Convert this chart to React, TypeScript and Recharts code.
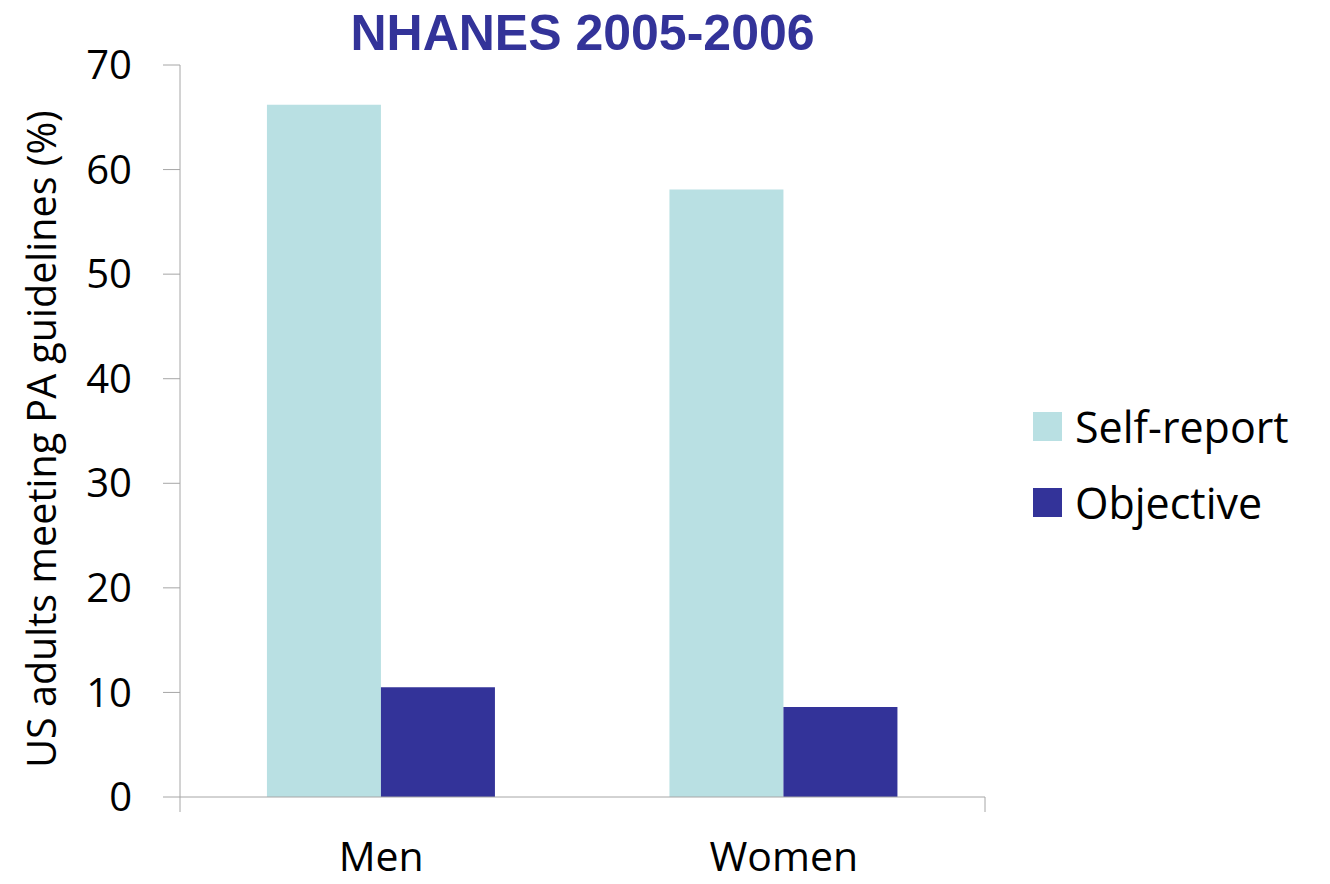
import { BarChart, Bar, XAxis, YAxis } from 'recharts';

const categories = ['Men', 'Women'];
const selfReport = [66.2, 58.1];
const objective = [10.5, 8.6];
const yTicks = [0, 10, 20, 30, 40, 50, 60, 70];
const edgeTicks = [0, 1, 2];

const SERIES = [
  { key: 'selfReport', name: 'Self-report', color: '#B9E0E3' },
  { key: 'objective', name: 'Objective', color: '#333399' },
];

const data = categories.map((c, i) => ({
  category: c,
  selfReport: selfReport[i],
  objective: objective[i],
}));

const FONT = '"Open Sans", "Noto Sans", sans-serif';
const AXIS = '#A6A6A6';

export default function App() {
  return (
    <div style={{ position: 'relative', width: 1330, height: 884, background: '#fff' }}>
      <style>{'body{margin:0}'}</style>
      <div
        style={{
          position: 'absolute',
          left: 180,
          width: 805,
          top: 7,
          textAlign: 'center',
          fontFamily: '"Liberation Sans", Arial, sans-serif',
          fontWeight: 'bold',
          fontSize: 50,
          color: '#333399',
          lineHeight: '52px',
        }}
      >
        NHANES 2005-2006
      </div>
      <BarChart
        width={1330}
        height={884}
        data={data}
        margin={{ top: 65, right: 345, bottom: 0, left: 0 }}
        barCategoryGap="21.6%"
        barGap={0}
      >
        <XAxis
          xAxisId="axis1"
          dataKey="category"
          axisLine={false}
          tickLine={false}
          tickSize={0}
          tickMargin={30}
          height={72}
          tick={{ fill: '#000', fontSize: 41, fontFamily: FONT }}
        />
        {/* category boundary ticks + baseline */}
        <XAxis
          xAxisId="axis0"
          type="number"
          domain={[0, categories.length]}
          ticks={edgeTicks}
          tickFormatter={() => ''}
          stroke={AXIS}
          tickSize={15}
          height={15}
          allowDataOverflow
        />
        <YAxis
          domain={[0, 70]}
          ticks={yTicks}
          width={180}
          stroke={AXIS}
          tickSize={17}
          tickMargin={31}
          tick={{ fill: '#000', fontSize: 40, fontFamily: FONT }}
          label={{
            value: 'US adults meeting PA guidelines (%)',
            angle: -90,
            position: 'insideLeft',
            offset: 42,
            dy: 8,
            style: { textAnchor: 'middle', fontSize: 39.5, fontFamily: FONT, fill: '#000' },
          }}
        />
        {SERIES.map((s) => (
          <Bar
            key={s.key}
            xAxisId="axis1"
            dataKey={s.key}
            name={s.name}
            fill={s.color}
            isAnimationActive={false}
          />
        ))}
      </BarChart>
      <div style={{ position: 'absolute', left: 1033, top: 388, fontFamily: FONT }}>
        {SERIES.map((s) => (
          <div key={s.key} style={{ display: 'flex', alignItems: 'center', height: 76 }}>
            <span style={{ width: 29, height: 29, background: s.color, marginRight: 13 }} />
            <span style={{ fontSize: 43, color: '#000' }}>{s.name}</span>
          </div>
        ))}
      </div>
    </div>
  );
}
